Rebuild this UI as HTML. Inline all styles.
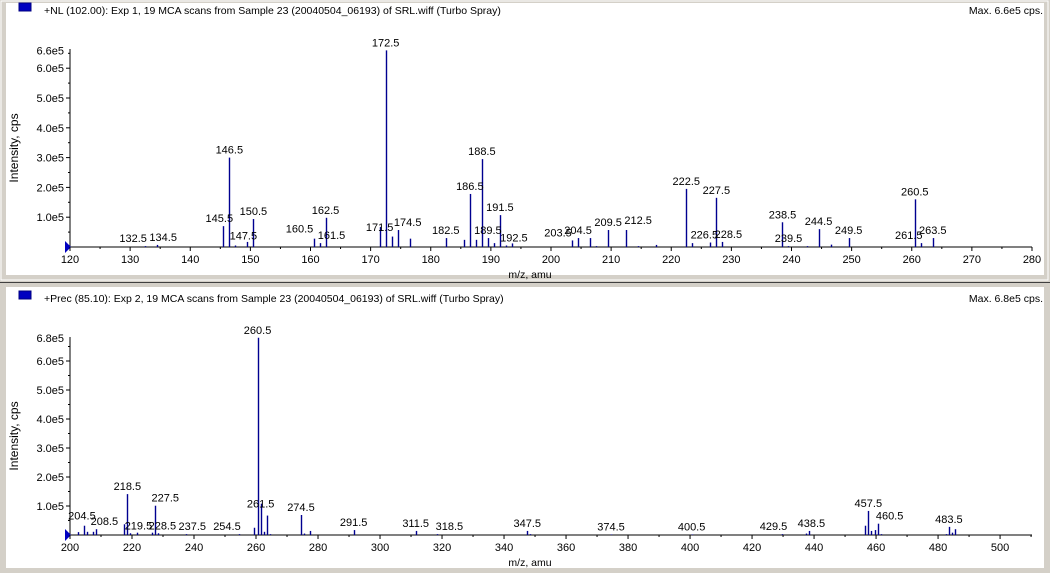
<!DOCTYPE html>
<html><head><meta charset="utf-8"><style>
html,body{margin:0;padding:0;background:#d4d0c8;width:1050px;height:573px;overflow:hidden}
svg{display:block;font-family:"Liberation Sans",sans-serif}
</style></head><body>
<svg id="chart" width="1050" height="573" viewBox="0 0 1050 573" xmlns="http://www.w3.org/2000/svg">
<rect x="0" y="0" width="1050" height="573" fill="#d4d0c8"/>
<rect x="1" y="1" width="1047" height="279" fill="none" stroke="#ffffff"/>
<rect x="6" y="3" width="1038" height="272" fill="#ffffff"/>
<line x1="0" y1="282.5" x2="1050" y2="282.5" stroke="#404040" stroke-width="1"/>
<rect x="6" y="287" width="1038" height="281" fill="#ffffff"/>
<g id="top"></g>
<g id="bot"></g>
</svg>
<script>
// ---- Top spectrum data (+NL 102.00) ----
const topMz = [132.5,134.5,145.5,146.5,147.5,149.5,150.5,160.5,161.5,162.5,171.5,172.5,173.5,174.5,176.5,182.5,185.5,186.5,187.5,188.5,189.5,190.5,191.5,192.5,193.5,203.5,204.5,206.5,207.5,209.5,212.5,214.5,217.5,222.5,223.5,226.5,227.5,228.5,238.5,239.5,242.5,244.5,246.5,249.5,260.5,261.5,263.5];
const topInt = [0.03,0.07,0.7,3.0,0.05,0.17,0.94,0.28,0.13,0.98,0.67,6.6,0.35,0.57,0.28,0.3,0.24,1.78,0.24,2.95,0.3,0.13,1.07,0.05,0.12,0.22,0.3,0.3,0.03,0.57,0.57,0.03,0.07,1.95,0.13,0.15,1.65,0.17,0.83,0.03,0.03,0.6,0.08,0.3,1.6,0.13,0.3];
const topLabels = ["132.5","134.5","145.5","146.5","147.5","150.5","160.5","161.5","162.5","171.5","172.5","174.5","182.5","186.5","188.5","189.5","191.5","192.5","203.5","204.5","209.5","212.5","222.5","226.5","227.5","228.5","238.5","239.5","244.5","249.5","260.5","261.5","263.5"];
const topXTicks = [120,130,140,150,160,170,180,190,200,210,220,230,240,250,260,270,280];
const topYTicks = ["1.0e5","2.0e5","3.0e5","4.0e5","5.0e5","6.0e5"];
// ---- Bottom spectrum data (+Prec 85.10) ----
const botMz = [202.5,204.5,205.5,207.5,208.5,217.5,218.5,219.5,221.5,226.5,227.5,228.5,237.5,254.5,259.5,260.5,261.5,262.5,263.5,264.5,274.5,275.5,277.5,291.5,311.5,318.5,347.5,348.5,374.5,400.5,429.5,437.5,438.5,456.5,457.5,458.5,459.5,460.5,461.5,482.5,483.5,484.5,485.5];
const botInt = [0.1,0.32,0.11,0.11,0.2,0.37,1.41,0.06,0.08,0.08,1.01,0.06,0.03,0.03,0.25,6.8,1.08,0.11,0.67,0.03,0.69,0.05,0.14,0.17,0.14,0.03,0.14,0.03,0.02,0.02,0.03,0.05,0.14,0.32,0.83,0.14,0.17,0.39,0.03,0.03,0.28,0.08,0.2];
const botLabels = ["204.5","208.5","218.5","219.5","227.5","228.5","237.5","254.5","260.5","261.5","274.5","291.5","311.5","318.5","347.5","374.5","400.5","429.5","438.5","457.5","460.5","483.5"];
const botXTicks = [200,220,240,260,280,300,320,340,360,380,400,420,440,460,480,500];
const botYTicks = ["1.0e5","2.0e5","3.0e5","4.0e5","5.0e5","6.0e5"];

const NS="http://www.w3.org/2000/svg";
function mk(parent,tag,attrs){const e=document.createElementNS(NS,tag);for(const k in attrs)e.setAttribute(k,attrs[k]);parent.appendChild(e);return e;}

// label offsets for specific labels (layout only)
const labelShift = {
 top:{"132.5":[-12,0],"134.5":[6,0],"145.5":[-4,0],"147.5":[8,-2],"160.5":[-14,-2],"161.5":[12,0],"171.5":[0,8],"174.5":[10,0],"192.5":[8,0],"203.5":[-14,0],"204.5":[0,0],"212.5":[12,-2],"226.5":[-6,0],"228.5":[6,0],"261.5":[-12,0]},
 bot:{"204.5":[-2,-2],"208.5":[8,0],"219.5":[8,0],"227.5":[10,0],"228.5":[4,0],"237.5":[6,0],"254.5":[-12,0],"261.5":[0,8],"318.5":[12,0],"460.5":[12,0],"438.5":[2,0],"429.5":[-8,0]}
};

function drawPanel(g,o){
  const X=v=>o.x0+(v-o.mzMin)*(o.x1-o.x0)/(o.mzMax-o.mzMin);
  const Y=v=>o.base-v*o.perUnit;
  const sq=mk(g,'rect',{x:19,y:o.titleY-7,width:12,height:8,fill:'#0000c0',stroke:'#000080'});
  
  
  const t=mk(g,'text',{x:44,y:o.titleY+4,'font-size':10.5,fill:'#000'});t.textContent=o.title;
  
  
  const mx=mk(g,'text',{x:1043,y:o.titleY+4,'font-size':10.5,'text-anchor':'end',fill:'#000'});mx.textContent=o.maxText;
  
  
  const ya=mk(g,'line',{x1:o.x0,y1:o.yTop,x2:o.x0,y2:o.base,stroke:'#000'});
  
  
  const xa=mk(g,'line',{x1:o.x0,y1:o.base,x2:o.x1,y2:o.base,stroke:'#000'});
  
  
  const tri=mk(g,'polygon',{points:`${o.x0-5},${o.base-6} ${o.x0+1},${o.base} ${o.x0-5},${o.base+6}`,fill:'#0000c0'});
  
  
  o.yTicks.forEach((lab,i)=>{
    const v=i+1,y=Y(v);
    mk(g,'line',{x1:o.x0-4,y1:y,x2:o.x0,y2:y,stroke:'#000'});
    mk(g,'line',{x1:o.x0-2,y1:Y(v-0.5),x2:o.x0,y2:Y(v-0.5),stroke:'#000'});
    const tx=mk(g,'text',{x:o.x0-6,y:y+4,'font-size':11,'text-anchor':'end'});tx.textContent=lab;
    
    
  });
  mk(g,'line',{x1:o.x0-2,y1:Y(o.yTicks.length+0.5),x2:o.x0,y2:Y(o.yTicks.length+0.5),stroke:'#000'});
  const mt=mk(g,'text',{x:o.x0-6,y:Y(o.maxV)+4,'font-size':11,'text-anchor':'end'});mt.textContent=o.maxLabel;
  
  
  const yt=mk(g,'text',{x:0,y:0,'font-size':12,'text-anchor':'middle',transform:`translate(18,${(o.yTop+o.base)/2}) rotate(-90)`});yt.textContent='Intensity, cps';
  
  
  o.xTicks.forEach((v,i)=>{
    const x=X(v);
    mk(g,'line',{x1:x,y1:o.base,x2:x,y2:o.base+4,stroke:'#000'});
    const h=v+o.minorStep;
    if(X(h)<=o.x1) mk(g,'line',{x1:X(h),y1:o.base,x2:X(h),y2:o.base+2,stroke:'#000'});
    const tx=mk(g,'text',{x:x,y:o.base+16,'font-size':11,'text-anchor':'middle'});tx.textContent=v;
    
    
  });
  const xt=mk(g,'text',{x:530,y:o.base+31,'font-size':10.5,'text-anchor':'middle'});xt.textContent='m/z, amu';
  
  
  o.mz.forEach((m,i)=>{
    const x=Math.round(X(m))+0.5;
    const b=mk(g,'line',{x1:x,y1:o.base,x2:x,y2:Y(o.int[i]),stroke:'#000090','stroke-width':1.4});
    
    
  });
  o.labels.forEach(l=>{
    const m=parseFloat(l);const idx=o.mz.indexOf(m);
    const v=idx>=0?o.int[idx]:0;
    const sh=(o.shift[l]||[0,0]);
    const tx=mk(g,'text',{x:X(m)+sh[0],y:Y(v)-4+sh[1],'font-size':11,'text-anchor':'middle'});tx.textContent=l;
    
    
  });
}
drawPanel(document.getElementById('top'),{x0:70,x1:1032,mzMin:120,mzMax:280,base:247,perUnit:29.8,yTop:49,titleY:10,
  title:'+NL (102.00): Exp 1, 19 MCA scans from Sample 23 (20040504_06193) of SRL.wiff (Turbo Spray)',maxText:'Max. 6.6e5 cps.',
  mz:topMz,int:topInt,labels:topLabels,xTicks:topXTicks,yTicks:topYTicks,maxV:6.6,maxLabel:'6.6e5',minorStep:5,shift:labelShift.top});
drawPanel(document.getElementById('bot'),{x0:70,x1:1032,mzMin:200,mzMax:510.3,base:535,perUnit:29,yTop:337,titleY:298,
  title:'+Prec (85.10): Exp 2, 19 MCA scans from Sample 23 (20040504_06193) of SRL.wiff (Turbo Spray)',maxText:'Max. 6.8e5 cps.',
  mz:botMz,int:botInt,labels:botLabels,xTicks:botXTicks,yTicks:botYTicks,maxV:6.8,maxLabel:'6.8e5',minorStep:10,shift:labelShift.bot});
</script>
</body></html>
